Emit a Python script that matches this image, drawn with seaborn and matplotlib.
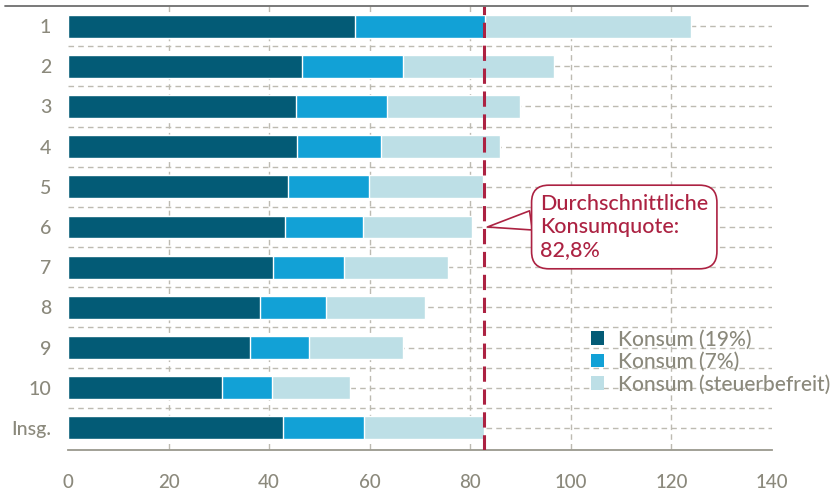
import numpy as np
import pandas as pd
import matplotlib.pyplot as plt
import seaborn as sns
from matplotlib.lines import Line2D
from matplotlib.patches import Patch

# Konsum nach Einkommensdezilen, Anteil am Nettoeinkommen in %
groups = ["1", "2", "3", "4", "5", "6", "7", "8", "9", "10", "Insg."]
konsum_19 = [57.1, 46.6, 45.4, 45.5, 43.8, 43.2, 40.7, 38.1, 36.1, 30.7, 42.7]
konsum_7 = [25.9, 20.1, 18.1, 16.8, 16.0, 15.4, 14.2, 13.2, 11.9, 9.8, 16.2]
konsum_frei = [40.9, 29.9, 26.4, 23.6, 22.7, 21.8, 20.6, 19.6, 18.7, 15.5, 23.9]
avg_quote = 82.8
series_labels = ["Konsum (19%)", "Konsum (7%)", "Konsum (steuerbefreit)"]
x_ticks = [0, 20, 40, 60, 80, 100, 120, 140]

c_dark, c_mid, c_light = "#035b76", "#12a1d6", "#bddfe6"
c_red = "#ac2242"
c_text = "#8b897c"
c_grid = "#bdbbb2"

sns.set_theme(style="white")
plt.rcParams["font.family"] = ["Lato", "DejaVu Sans"]
plt.rcParams["font.weight"] = "medium"

df = pd.DataFrame({"gruppe": groups, "k19": konsum_19, "k7": konsum_7, "frei": konsum_frei})
df["end7"] = df["k19"] + df["k7"]
df["total"] = df["end7"] + df["frei"]

fig = plt.figure(figsize=(8.35, 4.93), dpi=100)
ax = fig.add_axes([68 / 835, 43 / 493, 704 / 835, 444 / 493])

# stacked bars: draw the cumulative totals back to front
for col, color in [("total", c_light), ("end7", c_mid), ("k19", c_dark)]:
    sns.barplot(data=df, x=col, y="gruppe", order=groups, color=color,
                width=0.57, saturation=1, orient="h", ax=ax, zorder=3)

n = len(groups)
ax.set_xlim(0, 140)
ax.set_ylim(n - 0.45, -0.5)

# dashed grid
for y in np.arange(0, n):
    ax.plot([0, 140], [y, y], ls=(0, (4, 3)), color=c_grid, lw=1, zorder=1)
for y in np.arange(0.5, n - 0.5):
    ax.plot([0, 140], [y, y], ls=(0, (4, 3)), color=c_grid, lw=1, zorder=1)
for x in x_ticks[1:-1]:
    ax.plot([x, x], [-0.5, n - 0.45], ls=(0, (4, 3)), color=c_grid, lw=1, zorder=1)

ax.axvline(avg_quote, color=c_red, ls=(0, (5, 2.5)), lw=2.2, zorder=5)

# top rule
fig.add_artist(Line2D([5 / 835, 808 / 835], [1 - 6 / 493, 1 - 6 / 493],
                      color="#6e6e6e", lw=1.3))

for s in ["top", "right", "left"]:
    ax.spines[s].set_visible(False)
ax.spines["bottom"].set_color("#9a988e")
ax.spines["bottom"].set_linewidth(1.3)
ax.set_xticks(x_ticks)
ax.tick_params(axis="x", direction="out", length=9, width=1.3, color="#9a988e",
               labelsize=13.5, labelcolor=c_text, pad=8)
ax.tick_params(axis="y", length=0, labelsize=14, labelcolor=c_text, pad=12)
ax.set_xlabel("")
ax.set_ylabel("")

ax.annotate("Durchschnittliche\nKonsumquote:\n82,8%", xy=(avg_quote + 0.6, 5.0),
            xytext=(93.9, 5.0), ha="left", va="center", fontsize=15.5, color=c_red,
            linespacing=1.2, zorder=6,
            bbox=dict(boxstyle="round,pad=0.4,rounding_size=0.8", fc="white",
                      ec=c_red, lw=1.2),
            arrowprops=dict(arrowstyle="wedge,tail_width=0.9", fc="white", ec=c_red,
                            lw=1.2, relpos=(0, 0.62), shrinkA=0, shrinkB=0))

handles = [Patch(facecolor=c, edgecolor="none") for c in (c_dark, c_mid, c_light)]
leg = ax.legend(handles, series_labels, loc="upper left",
                bbox_to_anchor=(581 / 835, 1 - 319 / 493), bbox_transform=fig.transFigure,
                frameon=False, fontsize=15, handlelength=0.6, handleheight=0.6,
                handletextpad=0.7, labelspacing=0.12, borderpad=0)
for t in leg.get_texts():
    t.set_color(c_text)

fig.savefig("out.png", dpi=100)
